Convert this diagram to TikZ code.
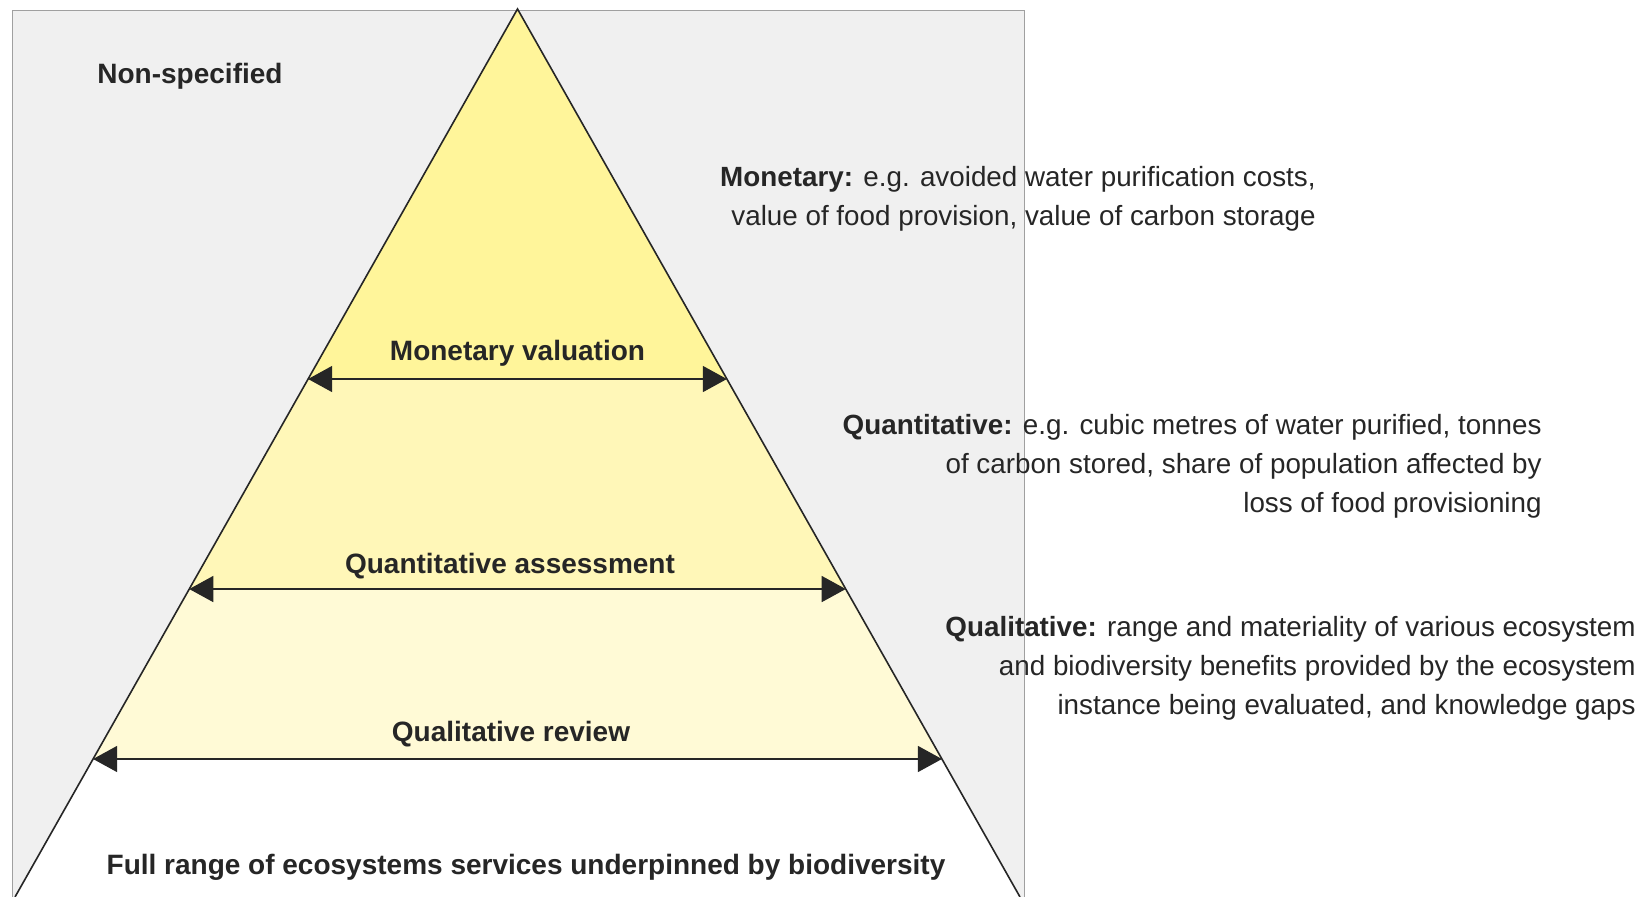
\documentclass[tikz,border=0pt]{standalone}
\usepackage{fontspec}
\setmainfont{Liberation Sans}
\usetikzlibrary{arrows.meta,calc}
\definecolor{bggray}{HTML}{F0F0F0}
\definecolor{frameline}{HTML}{A0A0A0}
\definecolor{moncol}{HTML}{FFF59A}
\definecolor{quancol}{HTML}{FFF7B8}
\definecolor{qualcol}{HTML}{FFFAD6}
\definecolor{inkdark}{HTML}{262626}

\begin{document}
\begin{tikzpicture}[x=0.5pt,y=-0.5pt,
  span/.style={{Triangle[length=12pt,width=13pt]}-{Triangle[length=12pt,width=13pt]},line width=0.6pt,draw=inkdark,fill=inkdark},
  layerlabel/.style={font=\fontsize{14}{16}\selectfont\bfseries,text=inkdark,inner sep=0pt},
  note/.style={font=\fontsize{13.9}{19.5}\selectfont,text=inkdark,align=right,inner sep=0pt,anchor=east}]
  \useasboundingbox (0,0) rectangle (1638,897);
  \fill[white] (0,0) rectangle (1638,897);
  \draw[frameline,fill=bggray] (12,10) rectangle (1024,910);

  %triangle corners
  \coordinate (apex) at (517.5,9);
  \coordinate (bl) at (15,897);
  \coordinate (br) at (1020,897);

  %band edges
  \coordinate (monL) at ($(apex)!0.4167!(bl)$);
  \coordinate (monR) at ($(apex)!0.4167!(br)$);
  \coordinate (quanL) at ($(apex)!0.6532!(bl)$);
  \coordinate (quanR) at ($(apex)!0.6532!(br)$);
  \coordinate (qualL) at ($(apex)!0.8446!(bl)$);
  \coordinate (qualR) at ($(apex)!0.8446!(br)$);

  \fill[moncol] (apex) -- (monR) -- (monL) -- cycle;
  \fill[quancol] (monL) -- (monR) -- (quanR) -- (quanL) -- cycle;
  \fill[qualcol] (quanL) -- (quanR) -- (qualR) -- (qualL) -- cycle;
  \fill[white] (qualL) -- (qualR) -- (br) -- (bl) -- cycle;
  \draw[line width=0.8pt,inkdark] (bl) -- (apex) -- (br);

  %double arrows
  \draw[span] (monL) -- (monR);
  \draw[span] (quanL) -- (quanR);
  \draw[span] (qualL) -- (qualR);

  %labels inside
  \node[layerlabel,anchor=west] (nonspec) at (97,76) {Non-specified};
  \node[layerlabel] (monlab) at (517.5,353) {Monetary valuation};
  \node[layerlabel] (quanlab) at (510,566) {Quantitative assessment};
  \node[layerlabel] (quallab) at (511,734) {Qualitative review};
  \node[layerlabel] (fullrange) at (526,867) {Full range of ecosystems services underpinned by biodiversity};

  %notes on the right
  \node[note] (monnote) at (1316,199) {\textbf{Monetary:} e.g. avoided water purification costs,\\
    value of food provision, value of carbon storage};
  \node[note] (quannote) at (1542,466) {\textbf{Quantitative:} e.g. cubic metres of water purified, tonnes\\
    of carbon stored, share of population affected by\\
    loss of food provisioning};
  \node[note] (qualnote) at (1636,668) {\textbf{Qualitative:} range and materiality of various ecosystem\\
    and biodiversity benefits provided by the ecosystem\\
    instance being evaluated, and knowledge gaps};
\end{tikzpicture}
\end{document}
